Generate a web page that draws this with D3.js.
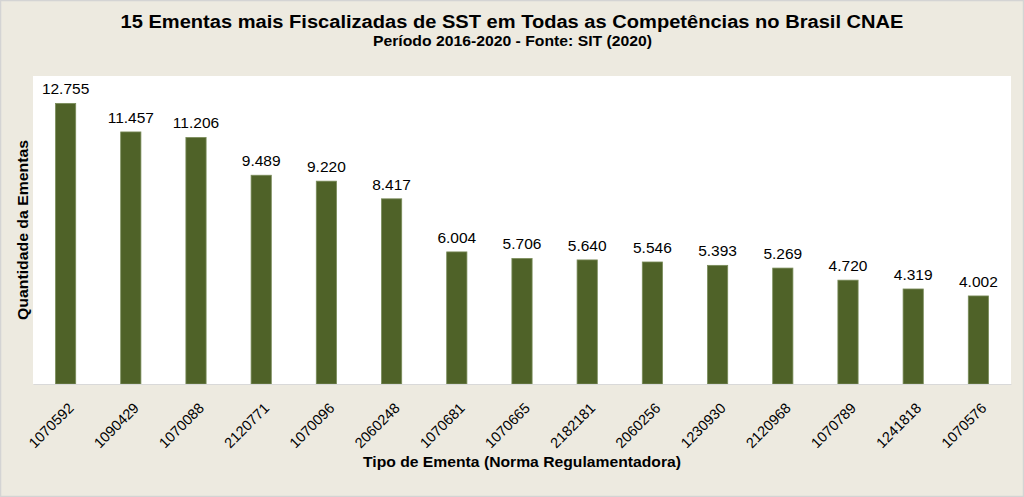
<!DOCTYPE html>
<html><head><meta charset="utf-8">
<script src="https://cdn.jsdelivr.net/npm/d3@7"></script>
<style>body{margin:0;background:#fff}svg{display:block}</style>
</head><body>
<svg id="c" width="1024" height="497"></svg>
<script>
const categories = ["1070592","1090429","1070088","2120771","1070096","2060248","1070681","1070665","2182181","2060256","1230930","2120968","1070789","1241818","1070576"];
const values = [12755,11457,11206,9489,9220,8417,6004,5706,5640,5546,5393,5269,4720,4319,4002];
const title = "15 Ementas mais Fiscalizadas de SST em Todas as Competências no Brasil CNAE";
const subtitle = "Período 2016-2020 - Fonte: SIT (2020)";
const xTitle = "Tipo de Ementa (Norma Regulamentadora)";
const yTitle = "Quantidade da Ementas";

const svg = d3.select("#c");
const W = 1024, H = 497;
const m = {left:33, right:1011, top:76, bottom:384};
const fmt = v => d3.format(",")(v).replace(/,/g, ".");
const FF = "Liberation Sans, Arial, sans-serif";

svg.append("rect").attr("x",0.5).attr("y",0.5).attr("width",W-1).attr("height",H-1)
  .attr("fill","#edeae0").attr("stroke","#d4d4d4").attr("stroke-width",1.5);
svg.append("rect").attr("x",m.left).attr("y",m.top).attr("width",m.right-m.left).attr("height",m.bottom-m.top)
  .attr("fill","#ffffff");

const x = d3.scaleBand().domain(categories).range([m.left, m.right]).paddingInner(0.69).paddingOuter(0.345);
const y = d3.scaleLinear().domain([0,14000]).range([m.bottom, m.top]);

svg.append("g").selectAll("rect").data(values).join("rect")
  .attr("x",(d,i)=>x(categories[i])).attr("width",x.bandwidth())
  .attr("y",d=>y(d)).attr("height",d=>y(0)-y(d))
  .attr("fill","#4f6228").attr("stroke","#7a8c5a").attr("stroke-width",0.8);

svg.append("g").selectAll("text").data(values).join("text")
  .attr("x",(d,i)=>x(categories[i])+x.bandwidth()/2).attr("y",d=>y(d)-9)
  .attr("text-anchor","middle").attr("font-family",FF)
  .attr("font-size",15.5).attr("fill","#000").text(d=>fmt(d));

const xAxis = d3.axisBottom(x).tickSize(0).tickPadding(0);
const gx = svg.append("g").attr("transform",`translate(0,${m.bottom})`).call(xAxis);
gx.select(".domain").attr("stroke","#d9d9d9");
gx.selectAll("text")
  .attr("font-family",FF).attr("font-size",14.5).attr("fill","#000")
  .attr("text-anchor","end").attr("dy",null).attr("y",0)
  .attr("transform","translate(9,25) rotate(-45)");

svg.append("text").attr("x",512).attr("y",28).attr("text-anchor","middle")
  .attr("font-family",FF).attr("font-weight","bold").attr("font-size",18)
  .attr("textLength",783).attr("lengthAdjust","spacingAndGlyphs").text(title);
svg.append("text").attr("x",512.5).attr("y",46).attr("text-anchor","middle")
  .attr("font-family",FF).attr("font-weight","bold").attr("font-size",15)
  .attr("textLength",279).attr("lengthAdjust","spacingAndGlyphs").text(subtitle);
svg.append("text").attr("x",522).attr("y",467).attr("text-anchor","middle")
  .attr("font-family",FF).attr("font-weight","bold").attr("font-size",15)
  .attr("textLength",318).attr("lengthAdjust","spacingAndGlyphs").text(xTitle);
svg.append("text").attr("transform","translate(28,230) rotate(-90)").attr("text-anchor","middle")
  .attr("font-family",FF).attr("font-weight","bold").attr("font-size",15)
  .attr("textLength",180).attr("lengthAdjust","spacingAndGlyphs").text(yTitle);
</script>
</body></html>
